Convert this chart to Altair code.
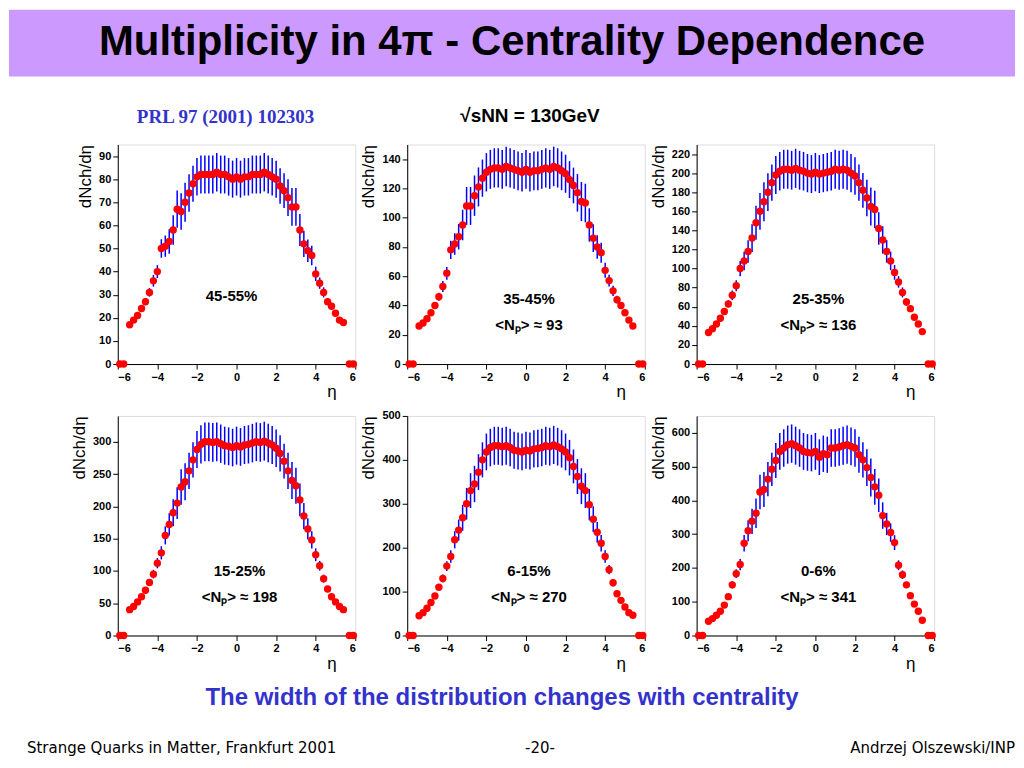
import pandas as pd
import altair as alt

# --- data: dN/deta vs eta, six centrality bins ---
eta = [round(-5.4 + 0.2 * i, 1) for i in range(55)]
zero_eta = [-5.9, -5.7, 5.7, 5.9]

rel_err = [0.05, 0.05, 0.05, 0.06, 0.06, 0.06, 0.07, 0.07, 0.08, 0.09,
           0.10, 0.11, 0.12, 0.12, 0.12, 0.11, 0.10, 0.10, 0.10, 0.10,
           0.10, 0.10, 0.10, 0.10, 0.10, 0.10, 0.10, 0.10, 0.10, 0.10,
           0.10, 0.10, 0.10, 0.10, 0.10, 0.10, 0.10, 0.10, 0.10, 0.10,
           0.11, 0.12, 0.12, 0.12, 0.11, 0.10, 0.09, 0.08, 0.07, 0.07,
           0.06, 0.06, 0.05, 0.05, 0.05]

c45_55 = [17, 19, 21, 24, 27, 31, 36, 40, 50, 51, 53, 58, 67, 66, 70, 74, 78, 81, 82, 82,
          82, 82, 83, 82, 82, 81, 80, 81, 80, 81, 81, 82, 82, 82, 83, 82, 81, 80, 77, 75,
          72, 68, 68, 58, 52, 49, 47, 39, 35, 31, 27, 25, 22, 19, 18]
c35_45 = [26, 28, 31, 35, 40, 46, 53, 62, 78, 82, 87, 95, 108, 108, 115, 121, 127, 131, 133, 134,
          134, 133, 135, 134, 133, 132, 131, 133, 131, 132, 132, 133, 134, 133, 135, 134, 132, 130, 126, 122,
          117, 111, 110, 95, 86, 80, 76, 64, 57, 50, 44, 40, 35, 30, 26]
c25_35 = [33, 37, 42, 48, 55, 63, 72, 82, 100, 108, 118, 132, 148, 160, 170, 180, 190, 198, 202, 204,
          204, 203, 205, 203, 202, 200, 199, 201, 199, 200, 201, 202, 204, 203, 204, 203, 200, 197, 190, 182,
          174, 165, 162, 142, 130, 118, 108, 96, 86, 75, 65, 58, 49, 42, 34]
c15_25 = [40, 45, 52, 60, 70, 82, 95, 112, 128, 155, 172, 190, 205, 230, 238, 255, 272, 288, 296, 300,
          300, 299, 300, 297, 294, 293, 291, 294, 292, 295, 296, 298, 300, 299, 301, 298, 295, 290, 282, 270,
          255, 240, 232, 210, 185, 165, 148, 125, 108, 88, 72, 60, 52, 45, 40]
c6_15 = [45, 52, 62, 75, 90, 110, 130, 158, 180, 218, 240, 268, 300, 330, 345, 372, 400, 418, 428, 432,
         432, 430, 432, 428, 422, 420, 418, 422, 420, 425, 426, 428, 432, 430, 434, 430, 425, 418, 405, 385,
         362, 340, 330, 298, 265, 235, 210, 180, 150, 120, 95, 80, 65, 52, 46]
c0_6 = [42, 50, 60, 72, 90, 115, 150, 183, 210, 273, 310, 338, 362, 425, 432, 463, 492, 518, 545, 555,
        565, 568, 562, 555, 545, 542, 540, 545, 528, 538, 535, 555, 555, 558, 562, 565, 560, 555, 535, 520,
        497, 468, 440, 415, 355, 330, 305, 275, 208, 180, 150, 118, 93, 72, 45]

panels = [
    ("45-55%", None, c45_55, 95, 10),
    ("35-45%", "<Nₚ> ≈ 93", c35_45, 150, 20),
    ("25-35%", "<Nₚ> ≈ 136", c25_35, 230, 20),
    ("15-25%", "<Nₚ> ≈ 198", c15_25, 340, 50),
    ("6-15%", "<Nₚ> ≈ 270", c6_15, 500, 100),
    ("0-6%", "<Nₚ> ≈ 341", c0_6, 650, 100),
]

PW, PH = 238, 220
FONT = "Liberation Sans"
LEFT, TOP = 109, 135
one = pd.DataFrame({"a": [0]})


def txt(x, y, s, size, color="black", font=FONT, weight="bold", align="center"):
    return alt.Chart(one).mark_text(font=font, fontSize=size, fontWeight=weight, color=color,
                                    align=align).encode(x=alt.value(x), y=alt.value(y), text=alt.value(s))


def panel(i, label, npart, vals, ymax, step):
    d = pd.DataFrame({"eta": eta, "v": vals, "rel": rel_err})
    d["lo"] = d["v"] * (1 - d["rel"])
    d["hi"] = d["v"] * (1 + d["rel"])
    z = pd.DataFrame({"eta": zero_eta, "v": [0] * 4})

    xsc = alt.Scale(domain=[-6, 6], nice=False)
    ysc = alt.Scale(domain=[0, ymax], nice=False)
    xax = alt.Axis(values=[-6, -4, -2, 0, 2, 4, 6], title="η", titleX=PW - 24, titleY=20,
                   titleAlign="center", titleBaseline="top", titleFontWeight="normal",
                   titleFontSize=17, grid=False, labelFontWeight="bold", labelOverlap=False,
                   labelFontSize=11, labelColor="black", tickColor="black", domainColor="black",
                   labelFont=FONT)
    yax = alt.Axis(values=list(range(0, ymax + 1, step)), title="dNch/dη", titleFontSize=17,
                   titleAnchor="end", titleColor="black", titleFontWeight="normal", grid=False,
                   labelFontWeight="bold", labelOverlap=False, labelFontSize=11, labelFont=FONT,
                   labelColor="black", tickColor="black", domainColor="black")
    x = alt.X("eta:Q", scale=xsc, axis=xax)
    pts = alt.Chart(d).mark_circle(color="#ff0000", size=55, opacity=1).encode(
        x=x, y=alt.Y("v:Q", scale=ysc, axis=yax))
    bars = alt.Chart(d).mark_rule(color="#0000ff", strokeWidth=1.5).encode(
        x=x, y=alt.Y("lo:Q", scale=ysc, axis=yax), y2="hi:Q")
    zp = alt.Chart(z).mark_circle(color="#ff0000", size=55, opacity=1).encode(
        x=x, y=alt.Y("v:Q", scale=ysc, axis=yax))
    layers = [bars, pts, zp]
    ly = 152 if npart is None else 155
    layers.append(txt(PW / 2 - 5 if npart is None else PW / 2 + 3, ly, label, 15))
    if npart:
        layers.append(txt(PW / 2 + 3, ly + 26, npart, 15))
    if i == 0:
        layers = [
            alt.Chart(one).mark_rect(color="#cc99ff").encode(
                x=alt.value(-LEFT), x2=alt.value(1008 - LEFT), y=alt.value(-TOP), y2=alt.value(67 - TOP)),
            txt(504 - LEFT, 32 - TOP, "Multiplicity in 4π - Centrality Dependence", 42),
            txt(217 - LEFT, 107 - TOP, "PRL 97 (2001) 102303", 19, "#3333cc", "Liberation Serif"),
            txt(522 - LEFT, 106 - TOP, "√sNN = 130GeV", 19),
            txt(494 - LEFT, 690 - TOP, "The width of the distribution changes with centrality", 24, "#3333cc"),
            txt(18 - LEFT, 740 - TOP, "Strange Quarks in Matter, Frankfurt 2001", 15, font="DejaVu Sans",
                weight="normal", align="left"),
            txt(532 - LEFT, 740 - TOP, "-20-", 15, font="DejaVu Sans", weight="normal"),
            txt(1008 - LEFT, 740 - TOP, "Andrzej Olszewski/INP", 15, font="DejaVu Sans",
                weight="normal", align="right"),
        ] + layers
    return alt.layer(*layers).properties(width=PW, height=PH)


p = [panel(i, *args) for i, args in enumerate(panels)]

chart = alt.concat(*p, columns=3, spacing=52, bounds="flush").properties(
    padding=0,
).configure_view(stroke="black", strokeWidth=1.5).configure(background="white")

chart.save("out.html", embed_options={"renderer": "svg", "actions": False})
